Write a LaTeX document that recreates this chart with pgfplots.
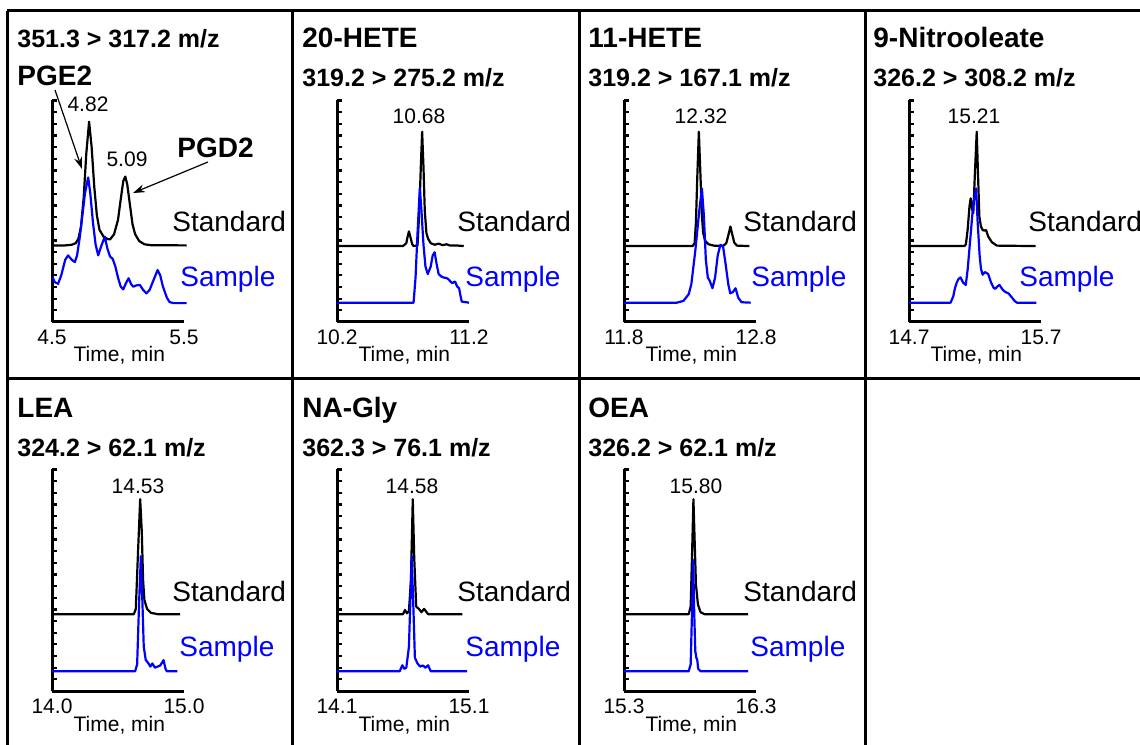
\documentclass[border=0pt]{standalone}
\usepackage{fontspec}
\setmainfont{Liberation Sans}
\usepackage{pgfplots}
\pgfplotsset{compat=1.18}
\usetikzlibrary{arrows.meta}

\newcommand\fTick{\fontsize{10.5}{12}\selectfont}
\newcommand\fLab{\fontsize{14}{16}\selectfont}
\newcommand\fName{\fontsize{14}{16}\selectfont\bfseries}
\newcommand\fMz{\fontsize{12.5}{15}\selectfont\bfseries}

\pgfplotsset{
  panel/.style={
    scale only axis, width=66pt, height=111pt, anchor=south west,
    ymin=0, ymax=100, axis lines=left, clip=false,
    axis line style={-, line width=1.5pt},
    ytick={0,5.25,...,100}, yticklabels={},
    tick align=inside, major tick length=2.4pt,
    ytick style={line width=1.1pt, black},
    xtick style={draw=none},
    xticklabel style={anchor=base, yshift=-11.25pt, font=\fTick},
    xlabel={Time, min},
    xlabel style={at={(axis description cs:0.51,0)}, anchor=base, yshift=-20pt, font=\fTick},
  },
  std/.style={black, line width=1.1pt, line join=round},
  smp/.style={blue, line width=1.1pt, line join=round},
}

\begin{document}
\begin{tikzpicture}
\useasboundingbox (0,0) rectangle (570pt,372pt);

% ---- row 1 ----
% PGE2 / PGD2
\begin{axis}[panel, at={(26pt,211pt)}, xmin=4.5, xmax=5.5, xtick={4.5,5.5}, xticklabels={4.5,5.5}]
\addplot[std] coordinates {
 (4.50,34.5) (4.60,34.5) (4.65,34.8) (4.68,35.5) (4.70,37.5) (4.72,43) (4.74,56) (4.76,76)
 (4.781,90.2) (4.80,79) (4.82,61) (4.84,48) (4.86,41.5) (4.89,38.5) (4.92,37.4) (4.94,37.2)
 (4.97,39.5) (5.00,46) (5.02,55) (5.04,63.5) (5.055,65.5) (5.07,62) (5.09,53) (5.11,44)
 (5.13,39.5) (5.16,36.5) (5.20,35) (5.25,34.6) (5.52,34.5)};
\addplot[smp] coordinates {
 (4.505,20.2) (4.52,18) (4.546,17.2) (4.57,21) (4.60,28) (4.622,30) (4.65,28) (4.673,27)
 (4.69,30) (4.71,38) (4.73,48) (4.75,58) (4.774,65.1) (4.79,58) (4.81,45) (4.83,35) (4.85,30)
 (4.875,34.5) (4.90,38.4) (4.92,33) (4.94,29.5) (4.96,28.4) (4.98,25) (5.00,20) (5.02,16)
 (5.04,14.7) (5.06,17.5) (5.08,19.7) (5.10,17) (5.115,15.9) (5.14,16.5) (5.165,16.7)
 (5.19,14.5) (5.215,12.9) (5.24,14.5) (5.27,19) (5.30,23.4) (5.32,21) (5.34,16) (5.37,11)
 (5.39,9) (5.42,8.5) (5.52,8.5)};
\end{axis}

% 20-HETE
\begin{axis}[panel, at={(168.5pt,211pt)}, xmin=10.2, xmax=11.2, xtick={10.2,11.2}, xticklabels={10.2,11.2}]
\addplot[std] coordinates {
 (10.20,34.2) (10.70,34.2) (10.725,35.5) (10.735,38.5) (10.745,40.8) (10.755,38.5) (10.77,35)
 (10.78,34.2) (10.81,34.5) (10.825,52) (10.835,70) (10.845,85.7) (10.855,70) (10.865,50)
 (10.8775,40) (10.89,37.5) (10.91,35.5) (10.94,34.8) (10.97,35.3) (11.00,34.6) (11.03,35)
 (11.06,34.4) (11.10,34.5) (11.16,34.2)};
\addplot[smp] coordinates {
 (10.20,8.7) (10.78,8.7) (10.795,20) (10.81,40) (10.8275,60.2) (10.84,50) (10.855,35) (10.87,25)
 (10.8875,21.6) (10.91,25) (10.925,30) (10.94,31.4) (10.955,26) (10.97,21.6) (10.99,20.5)
 (11.01,20) (11.03,19.8) (11.045,19.2) (11.06,18.2) (11.075,17.5) (11.085,18) (11.095,18.2)
 (11.11,16) (11.125,15.2) (11.135,12) (11.145,9.2) (11.20,8.7)};
\end{axis}

% 11-HETE
\begin{axis}[panel, at={(312pt,211pt)}, xmin=11.8, xmax=12.8, xtick={11.8,12.8}, xticklabels={11.8,12.8}]
\addplot[std] coordinates {
 (11.80,34.2) (12.32,34.2) (12.335,35.5) (12.345,45) (12.355,65) (12.367,85.7) (12.378,68)
 (12.39,48) (12.40,40) (12.415,36.5) (12.44,35) (12.48,34.4) (12.55,34.2) (12.575,35.5)
 (12.59,39) (12.606,43) (12.62,39.5) (12.635,35.8) (12.655,34.4) (12.75,34.2)};
\addplot[smp] coordinates {
 (11.80,8.7) (12.20,8.7) (12.25,9.5) (12.29,12.5) (12.31,17) (12.34,32) (12.37,50) (12.39,60.2)
 (12.405,48) (12.42,28) (12.435,20) (12.45,18.5) (12.47,15.2) (12.49,20) (12.51,30) (12.53,34.7)
 (12.55,34.2) (12.57,26) (12.59,17) (12.605,12.9) (12.625,13.5) (12.645,15.2) (12.665,11)
 (12.69,8.9) (12.76,8.7)};
\end{axis}

% 9-Nitrooleate
\begin{axis}[panel, at={(454.5pt,211pt)}, xmin=14.7, xmax=15.7, xtick={14.7,15.7}, xticklabels={14.7,15.7}]
\addplot[std] coordinates {
 (14.70,34.2) (15.12,34.2) (15.131,35) (15.145,42) (15.158,52) (15.167,55.7) (15.178,51)
 (15.187,49) (15.20,68) (15.213,85.7) (15.223,66) (15.233,47.5) (15.245,43) (15.258,41.4)
 (15.27,41.2) (15.284,41.4) (15.30,38.5) (15.327,36) (15.365,34.4) (15.66,34.2)};
\addplot[smp] coordinates {
 (14.70,8.7) (15.015,8.7) (15.035,11.5) (15.048,15.2) (15.06,17.5) (15.073,19.2) (15.09,20.1)
 (15.11,17.7) (15.13,16.7) (15.145,24) (15.165,38) (15.185,52) (15.208,60.2) (15.22,45)
 (15.235,30) (15.245,24) (15.258,21.3) (15.275,22.5) (15.30,21.6) (15.32,18) (15.34,15.5)
 (15.352,14.9) (15.37,16) (15.385,16.7) (15.41,14.5) (15.43,13.5) (15.454,12.9) (15.48,11)
 (15.50,9.5) (15.517,8.7) (15.665,8.7)};
\end{axis}

% ---- row 2 ----
% LEA
\begin{axis}[panel, at={(26pt,26.5pt)}, xmin=14.0, xmax=15.0, xtick={14.0,15.0}, xticklabels={14.0,15.0}]
\addplot[std] coordinates {
 (14.00,34.6) (14.62,34.6) (14.635,37) (14.65,60) (14.668,86.4) (14.68,72) (14.69,50) (14.70,41)
 (14.72,37) (14.75,35.2) (14.80,34.6) (14.97,34.6)};
\addplot[smp] coordinates {
 (14.00,8.9) (14.63,8.9) (14.645,12) (14.66,40) (14.673,60.7) (14.685,40) (14.695,20) (14.71,14)
 (14.73,12.5) (14.745,11) (14.76,12.4) (14.78,10.5) (14.80,11) (14.82,11.5) (14.845,13.9)
 (14.86,10) (14.87,8.9) (14.95,8.9)};
\end{axis}

% NA-Gly
\begin{axis}[panel, at={(168.5pt,26.5pt)}, xmin=14.1, xmax=15.1, xtick={14.1,15.1}, xticklabels={14.1,15.1}]
\addplot[std] coordinates {
 (14.10,34.6) (14.60,34.6) (14.615,36.5) (14.63,35) (14.645,36) (14.66,50) (14.674,86.4)
 (14.685,60) (14.70,38) (14.72,37) (14.74,35.5) (14.76,37) (14.79,34.6) (15.05,34.6)};
\addplot[smp] coordinates {
 (14.10,8.9) (14.575,8.9) (14.595,11.6) (14.61,10) (14.625,10.5) (14.645,20) (14.666,60.7)
 (14.68,35) (14.69,15) (14.71,12.4) (14.73,11) (14.75,11.5) (14.77,10.5) (14.79,11.6)
 (14.81,8.9) (15.085,8.9)};
\end{axis}

% OEA
\begin{axis}[panel, at={(312pt,26.5pt)}, xmin=15.3, xmax=16.3, xtick={15.3,16.3}, xticklabels={15.3,16.3}]
\addplot[std] coordinates {
 (15.30,34.6) (15.79,34.6) (15.805,38) (15.815,60) (15.826,86.4) (15.835,68) (15.845,48)
 (15.86,39) (15.88,35.5) (15.91,34.6) (16.24,34.6)};
\addplot[smp] coordinates {
 (15.30,8.9) (15.79,8.9) (15.805,12) (15.815,35) (15.824,59) (15.832,35) (15.84,18) (15.848,15)
 (15.855,14) (15.862,10) (15.88,8.9) (16.24,8.9)};
\end{axis}

% ---- frame and text, in reference pixels ----
\begin{scope}[x=0.5pt, y=-0.5pt, yshift=372pt]
  \draw[line width=1.5pt] (7,11) -- (1170,11);
  \draw[line width=1.5pt] (7,379) -- (1170,379);
  \foreach \c in {7,292,579,865} \draw[line width=1.5pt] (\c,11) -- (\c,770);

  \begin{scope}[every node/.style={inner sep=0pt, anchor=base west}]
    \node[font=\fMz]   at (17,48)  {351.3 > 317.2 m/z};
    \node[font=\fName] at (17,86)  {PGE2};
    \node[font=\fName] at (177,158) {PGD2};
    \node[font=\fName] at (302,48) {20-HETE};
    \node[font=\fMz]   at (302,87) {319.2 > 275.2 m/z};
    \node[font=\fName] at (588,48) {11-HETE};
    \node[font=\fMz]   at (588,87) {319.2 > 167.1 m/z};
    \node[font=\fName] at (873,48) {9-Nitrooleate};
    \node[font=\fMz]   at (873,87) {326.2 > 308.2 m/z};
    \node[font=\fName] at (17,418) {LEA};
    \node[font=\fMz]   at (17,457) {324.2 > 62.1 m/z};
    \node[font=\fName] at (302,418) {NA-Gly};
    \node[font=\fMz]   at (302,457) {362.3 > 76.1 m/z};
    \node[font=\fName] at (588,418) {OEA};
    \node[font=\fMz]   at (588,457) {326.2 > 62.1 m/z};

    \foreach \x/\y in {172/232,457/232,743/232,1028/232,172/602,457/602,743/602}
      \node[font=\fLab] at (\x,\y) {Standard};
    \foreach \x/\y in {180/287,465/287,751/287,1019/287,179/657,465/657,750/657}
      \node[font=\fLab, text=blue] at (\x,\y) {Sample};
  \end{scope}

  \begin{scope}[every node/.style={inner sep=0pt, anchor=base, font=\fTick}]
    \node at (88,112) {4.82};
    \node at (127,167) {5.09};
    \node at (419,124) {10.68};
    \node at (701,124) {12.32};
    \node at (974,124) {15.21};
    \node at (138,494) {14.53};
    \node at (412,494) {14.58};
    \node at (696,494) {15.80};
  \end{scope}

  \draw[-{Stealth[length=6pt,width=4pt]}, line width=0.6pt] (55,90) -- (82,169);
  \draw[-{Stealth[length=6pt,width=4pt]}, line width=0.6pt] (208,162) -- (133,193);
\end{scope}
\end{tikzpicture}
\end{document}
